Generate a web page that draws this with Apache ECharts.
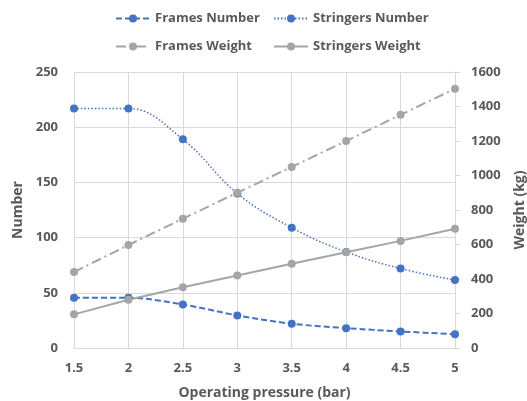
<!DOCTYPE html>
<html><head><meta charset="utf-8">
<script src="https://cdn.jsdelivr.net/npm/echarts@6/dist/echarts.min.js"></script>
<style>html,body{margin:0;padding:0;background:#fff}#c{width:527px;height:401px}</style>
</head><body><div id="c"></div>
<script>
const pressures = ['1.5','2','2.5','3','3.5','4','4.5','5'];
const framesNumber = [45.5, 45.5, 39.5, 29.5, 22, 18, 15, 12.5];
const stringersNumber = [217, 217, 189, 140, 109, 87, 72, 61.5];
const framesWeight = [440, 597, 750, 900, 1050, 1200, 1352, 1503];
const stringersWeight = [195, 280, 352, 420, 488, 555, 621, 691];

const BLUE = '#4472C4', GRAY = '#A5A5A5', TXT = '#595959';
const FONT = 'Open Sans';
const chart = echarts.init(document.getElementById('c'));
const legendBase = {itemWidth: 34, itemHeight: 10, textStyle: {color: TXT, fontSize: 13, fontWeight: 'bold', fontFamily: FONT}};
chart.setOption({
  animation: false,
  textStyle: {fontFamily: FONT},
  legend: [
    Object.assign({left: 110, top: 7, data: ['Frames Number']}, legendBase),
    Object.assign({left: 268, top: 7, data: ['Stringers Number']}, legendBase),
    Object.assign({left: 110, top: 35, data: ['Frames Weight']}, legendBase),
    Object.assign({left: 268, top: 35, data: ['Stringers Weight']}, legendBase)
  ],
  grid: {left: 74, right: 72, top: 72, bottom: 53, containLabel: false, outerBoundsMode: 'none'},
  xAxis: {
    type: 'category', data: pressures, boundaryGap: false,
    name: 'Operating pressure (bar)', nameLocation: 'middle', nameGap: 38,
    nameTextStyle: {color: TXT, fontSize: 14, fontWeight: 'bold'},
    axisLine: {lineStyle: {color: '#d9d9d9'}},
    axisTick: {show: false},
    axisLabel: {color: TXT, fontSize: 13, fontWeight: 'bold', margin: 14},
    splitLine: {show: true, lineStyle: {color: '#d9d9d9'}}
  },
  yAxis: [
    {type: 'value', min: 0, max: 250, interval: 50,
     name: 'Number', nameLocation: 'middle', nameGap: 45, nameRotate: 90,
     nameTextStyle: {color: TXT, fontSize: 14, fontWeight: 'bold'},
     axisLine: {show: false}, axisTick: {show: false},
     axisLabel: {color: TXT, fontSize: 13, fontWeight: 'bold', margin: 16},
     splitLine: {lineStyle: {color: '#d9d9d9'}}},
    {type: 'value', min: 0, max: 1600, interval: 200, position: 'right',
     name: 'Weight (kg)', nameLocation: 'middle', nameGap: 58, nameRotate: 90,
     nameTextStyle: {color: TXT, fontSize: 14, fontWeight: 'bold'},
     axisLine: {show: true, lineStyle: {color: '#d9d9d9'}},
     axisTick: {show: true, length: 5, lineStyle: {color: '#d9d9d9'}},
     axisLabel: {color: TXT, fontSize: 13, fontWeight: 'bold', margin: 16, formatter: v => String(v)},
     splitLine: {show: false}}
  ],
  series: [
    {name: 'Frames Number', type: 'line', yAxisIndex: 0, data: framesNumber, smooth: 0.3,
     symbol: 'circle', symbolSize: 8, itemStyle: {color: BLUE},
     lineStyle: {color: BLUE, width: 2, type: [6, 3]}},
    {name: 'Stringers Number', type: 'line', yAxisIndex: 0, data: stringersNumber, smooth: 0.4,
     symbol: 'circle', symbolSize: 8, itemStyle: {color: BLUE},
     lineStyle: {color: BLUE, width: 1.5, type: [1.5, 2]}},
    {name: 'Frames Weight', type: 'line', yAxisIndex: 1, data: framesWeight,
     symbol: 'circle', symbolSize: 8, itemStyle: {color: GRAY},
     lineStyle: {color: GRAY, width: 2, type: [10, 4, 2, 4]}},
    {name: 'Stringers Weight', type: 'line', yAxisIndex: 1, data: stringersWeight,
     symbol: 'circle', symbolSize: 8, itemStyle: {color: GRAY},
     lineStyle: {color: GRAY, width: 2}}
  ]
});
</script></body></html>
